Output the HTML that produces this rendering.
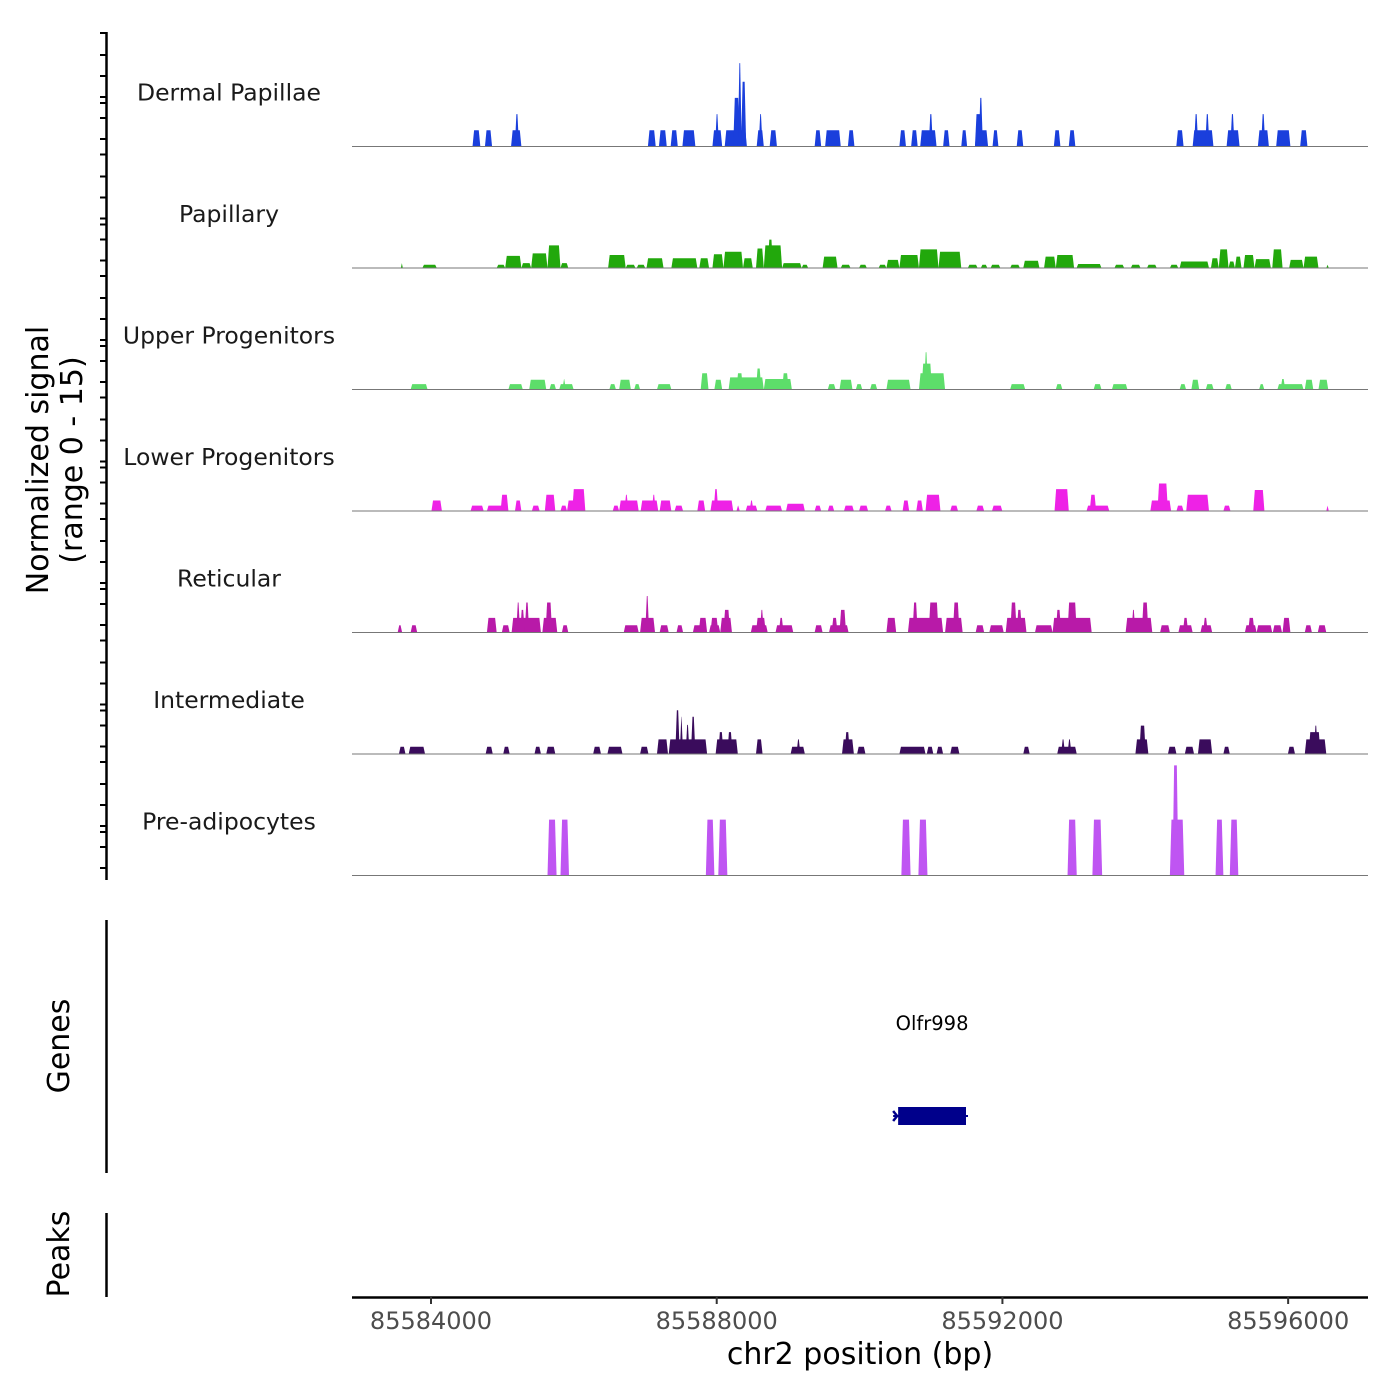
<!DOCTYPE html>
<html><head><meta charset="utf-8">
<style>
html,body{margin:0;padding:0;background:#fff;}
svg{display:block;font-family:"DejaVu Sans","Liberation Sans",sans-serif;}
</style></head>
<body>
<svg id="chart" width="1400" height="1400" viewBox="0 0 1400 1400" xmlns="http://www.w3.org/2000/svg">
<g id="tracks"></g>
<g id="axes"></g>
</svg>
<script>
// region and axis data
const regionStart = 85582894;
const regionEnd = 85597118;
const xTicks = [85584000, 85588000, 85592000, 85596000];
const xTickLabels = ["85584000", "85588000", "85592000", "85596000"];
const trackNames = ["Dermal Papillae","Papillary","Upper Progenitors","Lower Progenitors","Reticular","Intermediate","Pre-adipocytes"];
const trackColors = ["#1a3fdc","#22a80c","#5ddd6a","#ee22e6","#b81aa8","#3a0c5c","#bf55f2"];
const signalMax = 15;
// block offsets from regionStart, recorded in units of offsetUnitBp base pairs
const offsetUnitBp = 1.955;
const dpStarts = [863,952,1139,1166,2119,2198,2282,2366,2581,2600,2669,2730,2763,2786,2898,2912,2991,3313,3388,3551,3920,4004,4069,4130,4233,4363,4461,4461,4488,4587,4760,5026,5133,5903,6020,6030,6110,6263,6290,6487,6510,6618,6790];
const dpEnds   = [919,1003,1213,1196,2175,2254,2333,2459,2651,2628,2828,2777,2791,2823,2949,2940,3043,3360,3500,3598,3967,4051,4186,4160,4279,4405,4555,4508,4518,4629,4807,5073,5180,5955,6169,6060,6140,6356,6320,6566,6540,6720,6842];
const dpValues = [2,2,2,4,2,2,2,2,2,4,2,6,10.3,8,2,4,2,2,2,2,2,2,2,4,2,2,2,4,6,2,2,2,2,2,2,4,4,2,4,2,4,2,2];
const paStarts = [350,504,1036,1097,1213,1283,1400,1493,1834,1960,2039,2109,2287,2487,2581,2660,2800,2893,2949,2977,3080,3220,3370,3500,3631,3771,3827,3920,4060,4200,4410,4503,4573,4713,4807,4956,5040,5189,5460,5577,5693,5857,5927,6151,6207,6277,6323,6384,6463,6590,6711,6814,6977];
const paEnds   = [364,607,1097,1213,1283,1400,1493,1549,1960,2030,2100,2231,2473,2557,2660,2800,2870,2949,3080,3015,3220,3267,3477,3570,3687,3827,3920,4060,4200,4363,4480,4550,4643,4783,4923,5040,5171,5367,5530,5647,5763,5917,6137,6207,6277,6323,6370,6463,6580,6664,6814,6921,6995];
const paValues = [0.6,0.4,0.4,1.5,0.6,1.8,2.8,0.6,1.6,0.4,0.4,1.2,1.2,1.2,1.7,2.0,1.2,2.4,2.8,3.5,0.6,0.4,1.4,0.4,0.4,0.4,1.0,1.6,2.3,2.0,0.4,0.4,0.4,0.4,0.9,1.4,1.6,0.5,0.4,0.4,0.4,0.4,0.8,1.2,2.3,0.8,1.4,1.6,1.1,2.3,1.0,1.4,0.4];
const upStarts = [420,1120,1269,1414,1484,1507,1843,1913,2021,2184,2497,2595,2697,2753,2893,2949,3080,3407,3491,3608,3710,3827,4060,4079,4097,4713,5040,5311,5442,5927,6011,6114,6253,6496,6627,6650,6823,6921];
const upEnds   = [541,1223,1391,1461,1587,1531,1890,1997,2063,2287,2553,2651,2949,2800,2931,3150,3127,3463,3584,3654,3761,4000,4247,4153,4125,4821,5087,5367,5553,5973,6067,6170,6300,6533,6814,6683,6884,6991];
const upValues = [0.66,0.66,1.2,0.66,0.66,1.3,0.66,1.2,0.66,0.66,2.0,1.2,1.5,2.0,2.6,1.3,2.0,0.66,1.2,0.66,0.66,1.2,2.0,3.2,4.6,0.66,0.66,0.66,0.66,0.66,1.2,0.66,0.66,0.66,0.66,1.3,1.2,1.2];
const lpStarts = [569,849,966,1064,1167,1288,1381,1493,1540,1577,1867,1913,1951,2067,2147,2203,2310,2473,2567,2590,2753,2819,2847,2959,3108,3313,3407,3523,3631,3817,3943,4041,4107,4284,4471,4583,5031,5260,5283,5717,5768,5904,5974,6240,6454,6977];
const lpEnds   = [644,943,1120,1120,1213,1344,1456,1540,1610,1671,1913,2053,1979,2193,2175,2287,2371,2529,2730,2623,2777,2903,2875,3080,3243,3360,3453,3594,3696,3864,3990,4088,4214,4340,4527,4657,5133,5423,5329,5866,5843,5955,6137,6291,6534,6995];
const lpValues = [1.3,0.66,0.66,2.0,1.3,0.66,2.0,0.66,1.3,2.7,0.66,1.3,2.0,1.3,2.0,1.3,0.66,1.3,1.3,2.7,0.66,0.66,1.3,0.66,0.9,0.66,0.66,0.66,0.66,0.66,1.3,1.3,2.0,0.66,0.66,0.66,2.7,0.66,2.0,1.3,3.4,0.66,2.0,0.66,2.6,0.66];
const reStarts = [327,420,966,1073,1143,1176,1204,1237,1363,1386,1503,1946,2063,2100,2203,2324,2441,2483,2557,2567,2637,2660,2856,2893,2921,3033,3057,3313,3416,3435,3491,3827,3981,4014,4130,4247,4303,4466,4564,4681,4714,4760,4891,5017,5040,5124,5540,5582,5656,5787,5918,5950,6076,6095,6394,6417,6478,6594,6664,6823,6916];
const reEnds   = [359,467,1036,1129,1353,1204,1237,1269,1470,1433,1549,2053,2170,2128,2268,2371,2543,2543,2637,2623,2721,2707,2977,2963,2949,3160,3090,3370,3556,3477,3538,3897,4233,4051,4200,4373,4350,4527,4667,4830,4760,4798,5017,5297,5078,5190,5731,5610,5703,5857,6020,5988,6160,6128,6478,6463,6590,6660,6720,6874,6977];
const reValues = [0.9,0.9,1.8,0.9,1.8,3.7,2.8,3.7,1.8,3.7,0.9,0.9,1.8,4.5,0.9,0.9,0.9,1.8,0.9,1.8,1.8,2.8,0.9,1.8,2.8,0.9,1.8,0.9,0.9,1.8,2.8,1.8,1.8,3.7,3.7,1.8,3.7,0.9,0.9,1.8,3.7,2.8,0.9,1.8,2.8,3.7,1.8,2.8,3.7,0.9,0.9,1.8,0.9,1.8,0.9,1.8,0.9,0.9,1.8,0.9,0.9];
const inStarts = [336,406,957,1083,1307,1391,1727,1829,2063,2184,2268,2315,2347,2389,2427,2604,2623,2688,2893,3141,3183,3509,3528,3617,3920,4116,4186,4284,4807,5050,5078,5124,5610,5638,5843,5964,6058,6240,6702,6823,6851,6888];
const inEnds   = [383,523,1008,1129,1353,1456,1783,1937,2123,2263,2543,2347,2371,2417,2459,2763,2660,2725,2940,3243,3211,3594,3565,3677,4107,4163,4233,4350,4853,5190,5106,5152,5703,5684,5904,6030,6160,6286,6753,6977,6935,6916];
const inValues = [0.9,0.9,0.9,0.9,0.9,0.9,0.9,0.9,0.9,1.8,1.8,5.4,4.6,3.6,4.6,1.8,2.7,2.7,1.8,0.9,1.8,1.8,2.7,0.9,0.9,0.9,0.9,0.9,0.9,0.9,1.8,1.8,1.8,3.5,0.9,0.9,1.8,0.9,0.9,1.8,2.7,3.5];
const adStarts = [1400,1493,2534,2623,3934,4056,5124,5302,5857,5876,6184,6286];
const adEnds   = [1465,1554,2595,2688,4000,4121,5190,5372,5960,5918,6240,6347];
const adValues = [6.9,6.9,6.9,6.9,6.9,6.9,6.9,6.9,6.9,13.6,6.9,6.9];
const geneStart = 85590540, geneEnd = 85591490, geneName = "Olfr998";

const trackStarts = [dpStarts,paStarts,upStarts,lpStarts,reStarts,inStarts,adStarts];
const trackEnds = [dpEnds,paEnds,upEnds,lpEnds,reEnds,inEnds,adEnds];
const trackValues = [dpValues,paValues,upValues,lpValues,reValues,inValues,adValues];

const NS = "http://www.w3.org/2000/svg";
const plotL = 352, plotR = 1368;
const x = bp => plotL + (bp - regionStart) / (regionEnd - regionStart) * (plotR - plotL);
const trackTop0 = 25, trackH = 121.5;
const baseY = i => trackTop0 + (i + 1) * trackH;
const yv = (i, v) => baseY(i) - v / signalMax * trackH;

function mk(tag, attrs, parent) {
  const e = document.createElementNS(NS, tag);
  for (const k in attrs) e.setAttribute(k, attrs[k]);
  parent.appendChild(e);
  return e;
}
const tracks = document.getElementById('tracks');
const axes = document.getElementById('axes');

trackNames.forEach((name, i) => {
  const g = mk('g', {}, tracks);
  
  
  const starts = trackStarts[i], ends = trackEnds[i], vals = trackValues[i];
  for (let j = 0; j < starts.length; j++) {
    const s = regionStart + starts[j] * offsetUnitBp, e = regionStart + ends[j] * offsetUnitBp;
    const w = e - s;
    const t = Math.min(w / 2, 22);
    const y0 = baseY(i), y1 = yv(i, vals[j]);
    const p = mk('polygon', {points: `${x(s)},${y0} ${x(s + t)},${y1} ${x(e - t)},${y1} ${x(e)},${y0}`, fill: trackColors[i]}, g);
    
    
  }
  const bl = mk('line', {x1: plotL, x2: plotR, y1: baseY(i), y2: baseY(i), stroke: '#777', 'stroke-width': 1}, g);
  
  
  const lab = mk('text', {x: 229, y: baseY(i) - 46, 'text-anchor': 'middle', 'font-size': 23.5, fill: '#1a1a1a'}, g);
  lab.textContent = name;
  
  
});

// left signal axis
const ya = mk('line', {x1: 106.5, x2: 106.5, y1: 32, y2: 880, stroke: '#000', 'stroke-width': 2.5}, axes);


const tickOffsets = [0, 22, 43, 64, 70, 85, 106];
for (let k = 0; k < 7; k++) {
  tickOffsets.forEach(o => {
    const yy = 33 + k * 121.5 + o;
    if (yy > 880) return;
    const tk = mk('line', {x1: 100, x2: 106, y1: yy, y2: yy, stroke: '#000', 'stroke-width': 2}, axes);
    
    
  });
}
const yt = mk('text', {transform: 'translate(52,460) rotate(-90)', 'text-anchor': 'middle', 'font-size': 30, fill: '#000'}, axes);


const t1 = mk('tspan', {x: 0, dy: -4}, yt); t1.textContent = 'Normalized signal';
const t2 = mk('tspan', {x: 0, dy: 34}, yt); t2.textContent = '(range 0 - 15)';

// genes panel
const ga = mk('line', {x1: 106.5, x2: 106.5, y1: 920, y2: 1173, stroke: '#000', 'stroke-width': 2.5}, axes);


const gt = mk('text', {transform: 'translate(69,1046) rotate(-90)', 'text-anchor': 'middle', 'font-size': 30, fill: '#000'}, axes);
gt.textContent = 'Genes';


const gl = mk('line', {x1: x(geneStart) - 5, x2: x(geneEnd) + 2, y1: 1116, y2: 1116, stroke: '#00008b', 'stroke-width': 2}, axes);


const gr = mk('rect', {x: x(geneStart), y: 1107, width: x(geneEnd) - x(geneStart), height: 18, fill: '#00008b'}, axes);


const gc = mk('polyline', {points: `${x(geneStart)-5},1111 ${x(geneStart)-1},1116 ${x(geneStart)-5},1121`, fill: 'none', stroke: '#00008b', 'stroke-width': 2.5}, axes);


const gn = mk('text', {x: (x(geneStart) + x(geneEnd)) / 2, y: 1030, 'text-anchor': 'middle', 'font-size': 19.5, fill: '#000'}, axes);
gn.textContent = geneName;



// peaks panel
const pa = mk('line', {x1: 106.5, x2: 106.5, y1: 1213, y2: 1297, stroke: '#000', 'stroke-width': 2.5}, axes);


const pt = mk('text', {transform: 'translate(69,1254) rotate(-90)', 'text-anchor': 'middle', 'font-size': 30, fill: '#000'}, axes);
pt.textContent = 'Peaks';



// x axis
const xa = mk('line', {x1: plotL, x2: plotR, y1: 1297.5, y2: 1297.5, stroke: '#000', 'stroke-width': 2.5}, axes);


xTicks.forEach((v, k) => {
  const tk = mk('line', {x1: x(v), x2: x(v), y1: 1297, y2: 1304, stroke: '#333', 'stroke-width': 2}, axes);
  
  
  const tl = mk('text', {x: x(v), y: 1329, 'text-anchor': 'middle', 'font-size': 24, fill: '#4d4d4d'}, axes);
  tl.textContent = xTickLabels[k];
  
  
});
const xt = mk('text', {x: 860, y: 1364, 'text-anchor': 'middle', 'font-size': 30, fill: '#000'}, axes);
xt.textContent = 'chr2 position (bp)';


</script>
</body></html>
